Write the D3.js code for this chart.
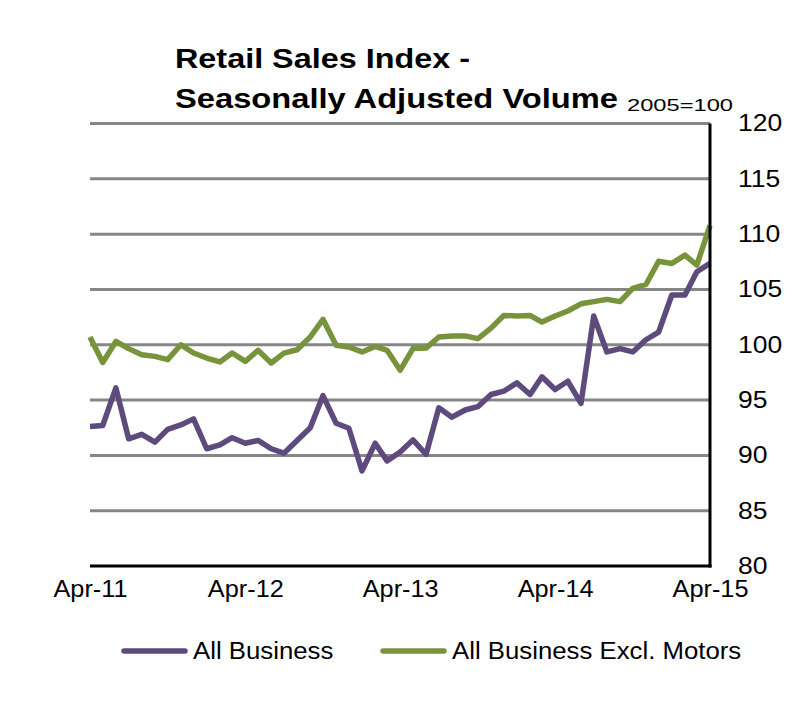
<!DOCTYPE html>
<html>
<head>
<meta charset="utf-8">
<script src="https://cdn.jsdelivr.net/npm/d3@7"></script>
<style>
  body { margin: 0; background: #fff; }
  text { font-family: Arial, "Liberation Sans", sans-serif; fill: #000; }
</style>
</head>
<body>
<script>
// monthly, Apr-11 .. Apr-15
var months = d3.range(49).map(function (i) { return new Date(2011, 3 + i, 1); });
var xTicks = months.filter(function (d, i) { return i % 12 === 0; });

var allBusiness = [
  92.6, 92.7, 96.1, 91.5, 91.9, 91.2, 92.35, 92.75, 93.3, 90.6,
  90.95, 91.6, 91.1, 91.35, 90.6, 90.2, 91.35, 92.5, 95.4, 92.9,
  92.45, 88.6, 91.1, 89.5, 90.3, 91.4, 90.1, 94.3, 93.45, 94.1,
  94.4, 95.5, 95.8, 96.55, 95.5, 97.1, 95.95, 96.7, 94.7, 102.6,
  99.35, 99.65, 99.35, 100.45, 101.15, 104.5, 104.5, 106.6, 107.35
];

var exclMotors = [
  100.7, 98.4, 100.3, 99.65, 99.1, 98.95, 98.65, 100.0, 99.25, 98.8,
  98.45, 99.25, 98.5, 99.5, 98.35, 99.25, 99.55, 100.7, 102.3, 99.95,
  99.8, 99.35, 99.85, 99.5, 97.7, 99.65, 99.7, 100.7, 100.8, 100.8,
  100.55, 101.5, 102.65, 102.6, 102.65, 102.05, 102.6, 103.05, 103.7, 103.9,
  104.1, 103.9, 105.1, 105.45, 107.55, 107.35, 108.1, 107.2, 110.8
];

var yTicks = [80, 85, 90, 95, 100, 105, 110, 115, 120];
var seriesNames = ["All Business", "All Business Excl. Motors"];
var seriesColors = ["#5e4a7d", "#77933c"];

var width = 793, height = 701;
var plotLeft = 90, plotRight = 710, plotTop = 123.5, plotBottom = 566;

var svg = d3.select("body").append("svg")
    .attr("width", width)
    .attr("height", height);

var x = d3.scaleTime()
    .domain([months[0], months[months.length - 1]])
    .range([plotLeft, plotRight]);

var y = d3.scaleLinear()
    .domain([80, 120])
    .range([plotBottom, plotTop]);

// stretch text a bit wider, the source is drawn wide
function widen(sel, k) {
  sel.each(function () {
    var w = this.getComputedTextLength();
    d3.select(this).attr("textLength", w * k).attr("lengthAdjust", "spacingAndGlyphs");
  });
}

// gridlines
svg.append("g")
  .selectAll("line")
  .data(yTicks.filter(function (d) { return d > 80; }))
  .enter()
  .append("line")
    .attr("x1", plotLeft)
    .attr("x2", plotRight)
    .attr("y1", function (d) { return y(d); })
    .attr("y2", function (d) { return y(d); })
    .attr("stroke", "#868686")
    .attr("stroke-width", 3);

// lines
var line = d3.line()
    .x(function (d, i) { return x(months[i]); })
    .y(function (d) { return y(d); });

[allBusiness, exclMotors].forEach(function (s, k) {
  svg.append("path")
    .datum(s)
    .attr("d", line)
    .attr("fill", "none")
    .attr("stroke", seriesColors[k])
    .attr("stroke-width", 5.5)
    .attr("stroke-linejoin", "round");
});

// axes
var xAxis = svg.append("g")
    .attr("transform", "translate(0," + plotBottom + ")")
    .call(d3.axisBottom(x)
      .tickValues(xTicks)
      .tickFormat(d3.timeFormat("%b-%y"))
      .tickSize(0)
      .tickPadding(14.5));
xAxis.select(".domain").remove();
xAxis.selectAll("text").style("font-size", "23px");
widen(xAxis.selectAll("text"), 1.1);

var yAxis = svg.append("g")
    .attr("transform", "translate(" + plotRight + ",0)")
    .call(d3.axisRight(y)
      .tickValues(yTicks)
      .tickSize(0)
      .tickPadding(28));
yAxis.select(".domain").remove();
yAxis.selectAll("text").style("font-size", "23px");
widen(yAxis.selectAll("text"), 1.15);

svg.append("line")
    .attr("x1", plotLeft).attr("x2", plotRight + 1.5)
    .attr("y1", plotBottom).attr("y2", plotBottom)
    .attr("stroke", "#000").attr("stroke-width", 3);
svg.append("line")
    .attr("x1", plotRight).attr("x2", plotRight)
    .attr("y1", plotTop).attr("y2", plotBottom + 1.5)
    .attr("stroke", "#000").attr("stroke-width", 3);

// title
svg.append("text")
    .attr("x", 175).attr("y", 68)
    .style("font-size", "27px").style("font-weight", "bold")
    .attr("textLength", 295).attr("lengthAdjust", "spacingAndGlyphs")
    .text("Retail Sales Index -");
svg.append("text")
    .attr("x", 175).attr("y", 108)
    .style("font-size", "27px").style("font-weight", "bold")
    .attr("textLength", 443).attr("lengthAdjust", "spacingAndGlyphs")
    .text("Seasonally Adjusted Volume");
svg.append("text")
    .attr("x", 627).attr("y", 111)
    .style("font-size", "17px")
    .attr("textLength", 106).attr("lengthAdjust", "spacingAndGlyphs")
    .text("2005=100");

// legend
var legendX = [122, 381];
var legend = svg.append("g")
  .selectAll("g")
  .data(seriesNames)
  .enter()
  .append("g")
    .attr("transform", function (d, i) { return "translate(" + legendX[i] + ",651)"; });

legend.append("line")
    .attr("x1", 2).attr("x2", 63)
    .attr("stroke", function (d, i) { return seriesColors[i]; })
    .attr("stroke-width", 5.5)
    .attr("stroke-linecap", "round");

var legendText = legend.append("text")
    .attr("x", 71).attr("y", 7.5)
    .style("font-size", "23px")
    .text(function (d) { return d; });
widen(legendText, 1.12);
</script>
</body>
</html>
